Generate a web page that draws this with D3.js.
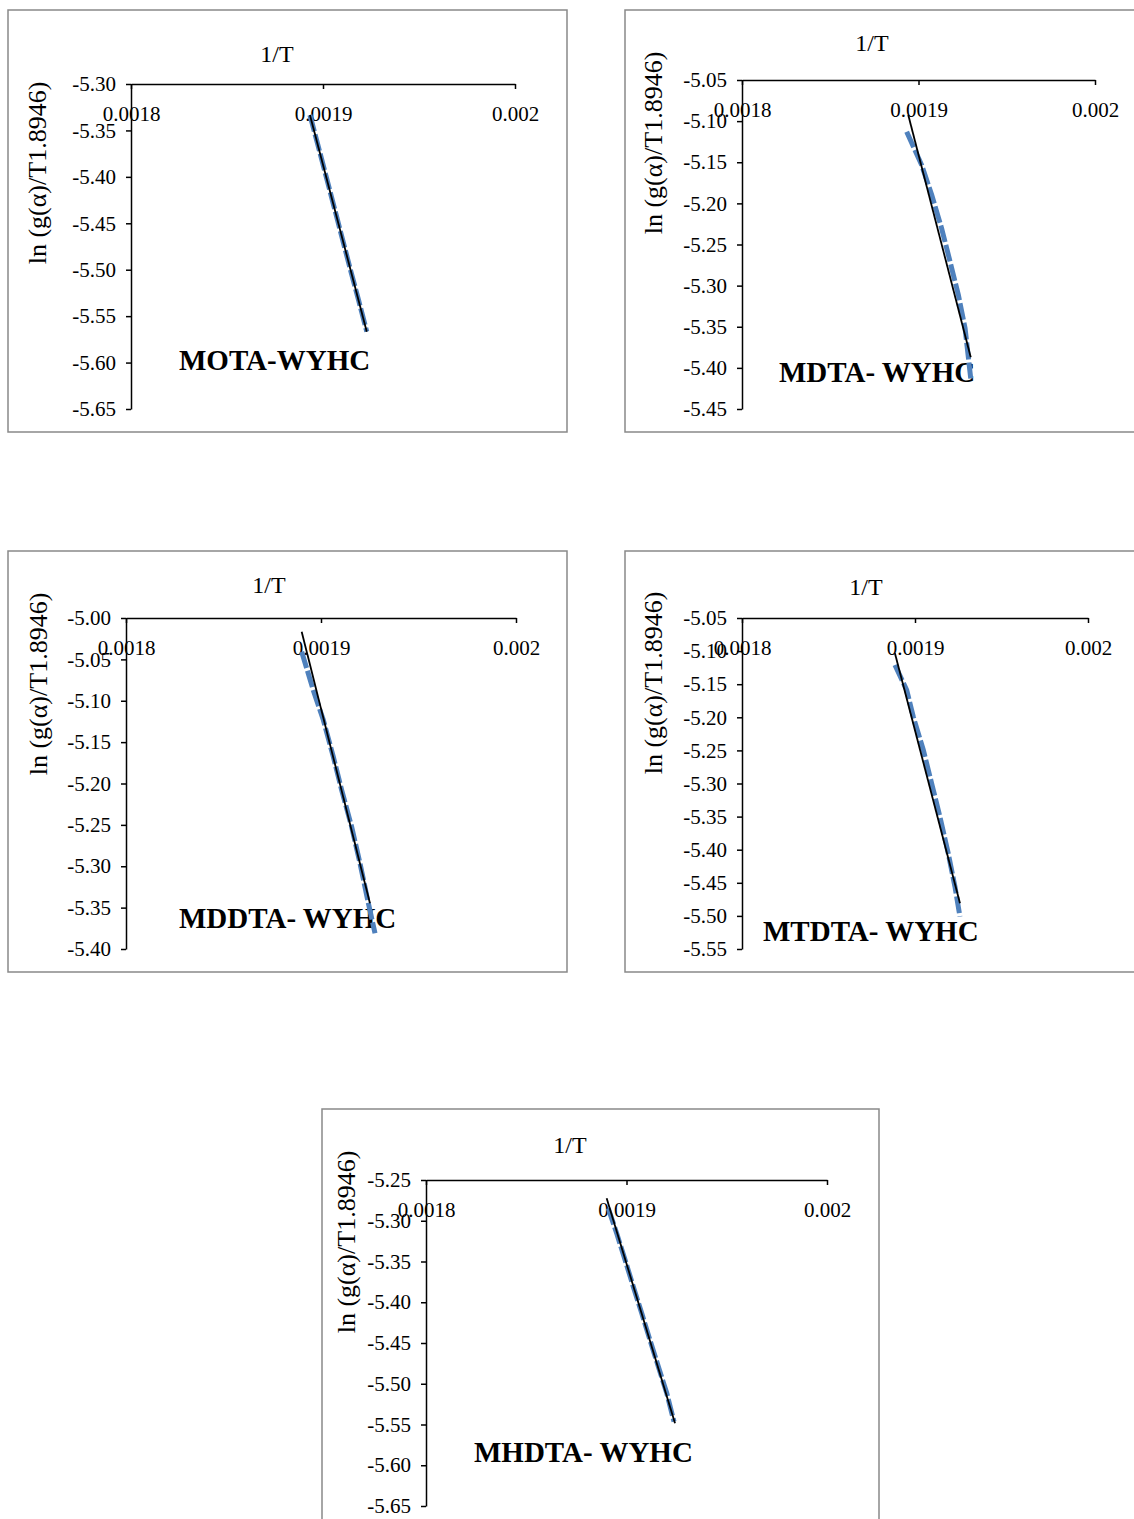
<!DOCTYPE html>
<html>
<head>
<meta charset="utf-8">
<script src="https://cdn.jsdelivr.net/npm/d3@7"></script>
<style>
body { margin: 0; background: #fff; }
svg { display: block; }
text { font-family: "Liberation Serif", "Times New Roman", serif; fill: #000; }
</style>
</head>
<body>
<div id="chart"></div>
<script>
// shared x axis (1/T)
const xTicks = [0.0018, 0.0019, 0.002];
const xTickLabels = ['0.0018', '0.0019', '0.002'];

// MOTA-WYHC
const motaX = [0.0018932, 0.0018975, 0.0019017, 0.0019059, 0.0019101, 0.0019143, 0.0019186, 0.0019228];
const motaY = [-5.3334, -5.3668, -5.4001, -5.4334, -5.4668, -5.5001, -5.5334, -5.5667];
const motaFitX = [0.0018932, 0.0019228];
const motaFitY = [-5.3334, -5.5667];
const motaTicks = [-5.30, -5.35, -5.40, -5.45, -5.50, -5.55, -5.60, -5.65];

// MDTA- WYHC
const mdtaX = [0.0018933, 0.0019018, 0.0019075, 0.0019131, 0.0019179, 0.0019226, 0.0019264, 0.0019296];
const mdtaY = [-5.1129, -5.1534, -5.1899, -5.2304, -5.2710, -5.3115, -5.3521, -5.4129];
const mdtaFitX = [0.0018942, 0.0019296];
const mdtaFitY = [-5.0926, -5.3870];
const mdtaTicks = [-5.05, -5.10, -5.15, -5.20, -5.25, -5.30, -5.35, -5.40, -5.45];

// MDDTA- WYHC
const mddtaX = [0.0018901, 0.0018960, 0.0019012, 0.0019063, 0.0019106, 0.0019157, 0.0019200, 0.0019243, 0.0019277];
const mddtaY = [-5.0407, -5.0870, -5.1233, -5.1676, -5.2079, -5.2522, -5.2964, -5.3448, -5.3810];
const mddtaFitX = [0.0018901, 0.0019251];
const mddtaFitY = [-5.0166, -5.3448];
const mddtaTicks = [-5.00, -5.05, -5.10, -5.15, -5.20, -5.25, -5.30, -5.35, -5.40];

// MTDTA- WYHC
const mtdtaX = [0.0018884, 0.0018952, 0.0018990, 0.0019048, 0.0019096, 0.0019144, 0.0019192, 0.0019231, 0.0019260];
const mtdtaY = [-5.1210, -5.1588, -5.1991, -5.2494, -5.2997, -5.3502, -5.4054, -5.4559, -5.5012];
const mtdtaFitX = [0.0018884, 0.0019260];
const mtdtaFitY = [-5.1033, -5.4810];
const mtdtaTicks = [-5.05, -5.10, -5.15, -5.20, -5.25, -5.30, -5.35, -5.40, -5.45, -5.50, -5.55];

// MHDTA- WYHC
const mhdtaX = [0.0018909, 0.0018951, 0.0018993, 0.0019034, 0.0019076, 0.0019117, 0.0019159, 0.0019201, 0.0019237];
const mhdtaY = [-5.2847, -5.3154, -5.3482, -5.3809, -5.4136, -5.4463, -5.4791, -5.5117, -5.5466];
const mhdtaFitX = [0.0018901, 0.0019242];
const mhdtaFitY = [-5.2725, -5.5485];
const mhdtaTicks = [-5.25, -5.30, -5.35, -5.40, -5.45, -5.50, -5.55, -5.60, -5.65];

const titleText = '1/T';
const yLabelText = 'ln (g(\u03b1)/T1.8946)';

// layout of the five boxes
const panels = [
    {name: 'MOTA-WYHC', xs: motaX, ys: motaY, fx: motaFitX, fy: motaFitY, ticks: motaTicks,
     box: [8, 10, 567, 432], plot: [131, 515, 84, 409], title: [277, 62], ylab: [46, 173], lab: [179, 370]},
    {name: 'MDTA- WYHC', xs: mdtaX, ys: mdtaY, fx: mdtaFitX, fy: mdtaFitY, ticks: mdtaTicks,
     box: [625, 10, 1150, 432], plot: [742, 1095, 80, 409], title: [872, 51], ylab: [662, 143], lab: [779, 382]},
    {name: 'MDDTA- WYHC', xs: mddtaX, ys: mddtaY, fx: mddtaFitX, fy: mddtaFitY, ticks: mddtaTicks,
     box: [8, 551, 567, 972], plot: [126, 516, 618, 949], title: [269, 593], ylab: [47, 684], lab: [179, 928]},
    {name: 'MTDTA- WYHC', xs: mtdtaX, ys: mtdtaY, fx: mtdtaFitX, fy: mtdtaFitY, ticks: mtdtaTicks,
     box: [625, 551, 1150, 972], plot: [742, 1088, 618, 949], title: [866, 595], ylab: [662, 683], lab: [763, 941]},
    {name: 'MHDTA- WYHC', xs: mhdtaX, ys: mhdtaY, fx: mhdtaFitX, fy: mhdtaFitY, ticks: mhdtaTicks,
     box: [322, 1109, 879, 1540], plot: [426, 827, 1180, 1506], title: [570, 1153], ylab: [355, 1242], lab: [474, 1462]},
];

const width = 1134;
const height = 1519;

const svg = d3.select('#chart').append('svg').attr('width', width).attr('height', height);

panels.forEach(p => {
    const g = svg.append('g').attr('class', 'panel');

    g.append('rect')
        .attr('x', p.box[0]).attr('y', p.box[1])
        .attr('width', p.box[2] - p.box[0]).attr('height', p.box[3] - p.box[1])
        .attr('fill', '#fff').attr('stroke', '#898989').attr('stroke-width', 1.5);

    const x = d3.scaleLinear().domain([xTicks[0], xTicks[xTicks.length - 1]]).range([p.plot[0], p.plot[1]]);
    const y = d3.scaleLinear().domain([p.ticks[0], p.ticks[p.ticks.length - 1]]).range([p.plot[2], p.plot[3]]);

    // y axis
    const yAxis = d3.axisLeft(y).tickValues(p.ticks).tickFormat(d => d.toFixed(2))
        .tickSize(5).tickSizeOuter(0).tickPadding(10);
    const yg = g.append('g').attr('transform', `translate(${p.plot[0]},0)`).call(yAxis);
    yg.selectAll('path, line').attr('stroke', '#000').attr('stroke-width', 1.5);
    yg.selectAll('text').attr('font-size', 21).style('font-family', '"Liberation Serif", serif');

    // x axis sits at the top of the plot
    const xAxis = d3.axisBottom(x).tickValues(xTicks).tickFormat((d, i) => xTickLabels[i])
        .tickSize(5).tickSizeOuter(0);
    const xg = g.append('g').attr('transform', `translate(0,${p.plot[2]})`).call(xAxis);
    xg.selectAll('path, line').attr('stroke', '#000').attr('stroke-width', 1.5);
    xg.selectAll('text').attr('font-size', 21).attr('y', 37).attr('dy', 0)
        .style('font-family', '"Liberation Serif", serif');

    // titles
    g.append('text').attr('x', p.title[0]).attr('y', p.title[1])
        .attr('text-anchor', 'middle').attr('font-size', 24).text(titleText);
    g.append('text').attr('transform', `translate(${p.ylab[0]},${p.ylab[1]}) rotate(-90)`)
        .attr('text-anchor', 'middle').attr('font-size', 26).text(yLabelText);
    g.append('text').attr('x', p.lab[0]).attr('y', p.lab[1])
        .attr('font-size', 29).attr('font-weight', 'bold').text(p.name);

    // data (blue dashed) and fitted line (black)
    const pts = p.xs.map((v, i) => [v, p.ys[i]]);
    const fit = p.fx.map((v, i) => [v, p.fy[i]]);
    const line = d3.line().x(d => x(d[0])).y(d => y(d[1]));

    g.append('path').datum(pts).attr('d', line)
        .attr('fill', 'none').attr('stroke', '#4f81bd').attr('stroke-width', 5)
        .attr('stroke-dasharray', '17,3');
    g.append('path').datum(fit).attr('d', line)
        .attr('fill', 'none').attr('stroke', '#000').attr('stroke-width', 1.8);
});
</script>
</body>
</html>
